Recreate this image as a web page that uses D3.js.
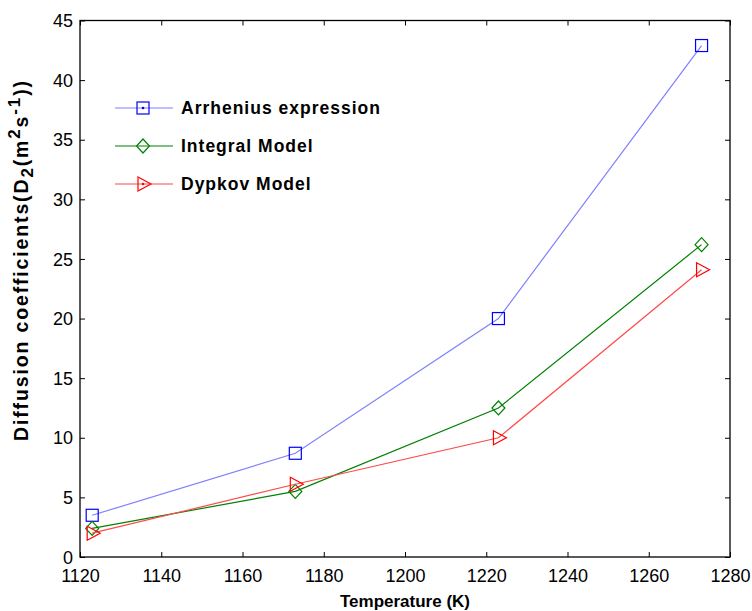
<!DOCTYPE html>
<html lang="en">
<head>
<meta charset="UTF-8" />
<title>Diffusion coefficients</title>
<style>
  body { margin: 0; background: #fff; }
  svg { display: block; font-family: "Liberation Sans", Arial, sans-serif; }
</style>
</head>
<body>
<div id="chart"></div>
<script src="https://d3js.org/d3.v7.min.js"></script>
<script>
  const temps = [1123, 1173, 1223, 1273];
  const arrhenius = [3.5, 8.7, 20.0, 42.9];
  const integral = [2.4, 5.5, 12.5, 26.2];
  const dypkov = [2.0, 6.1, 10.0, 24.1];
  const xTicks = [1120, 1140, 1160, 1180, 1200, 1220, 1240, 1260, 1280];
  const yTicks = [0, 5, 10, 15, 20, 25, 30, 35, 40, 45];

  const series = [
    { name: "Arrhenius expression", values: arrhenius, line: "#8080ff", mark: "#0000ff", shape: "square" },
    { name: "Integral Model", values: integral, line: "#008000", mark: "#008000", shape: "diamond" },
    { name: "Dypkov Model", values: dypkov, line: "#ff4a4a", mark: "#ff0000", shape: "triangle" }
  ];

  const W = 752, H = 611;
  const mLeft = 80, mRight = 730, mTop = 20.5, mBottom = 557;

  const x = d3.scaleLinear().domain([1120, 1280]).range([mLeft, mRight]);
  const y = d3.scaleLinear().domain([0, 45]).range([mBottom, mTop]);

  const svg = d3.select("#chart").append("svg")
    .attr("width", W).attr("height", H);

  // inward ticks on all four sides
  const tl = 5;
  const gx = svg.append("g").attr("transform", `translate(0,${mBottom})`)
    .call(d3.axisBottom(x).tickValues(xTicks).tickFormat(d3.format("d"))
      .tickSizeInner(-tl).tickSizeOuter(0).tickPadding(12));
  const gy = svg.append("g").attr("transform", `translate(${mLeft},0)`)
    .call(d3.axisLeft(y).tickValues(yTicks).tickFormat(d3.format("d"))
      .tickSizeInner(-tl).tickSizeOuter(0).tickPadding(7));
  const gx2 = svg.append("g").attr("transform", `translate(0,${mTop})`)
    .call(d3.axisTop(x).tickValues(xTicks).tickSizeInner(-tl).tickSizeOuter(0).tickFormat(""));
  const gy2 = svg.append("g").attr("transform", `translate(${mRight},0)`)
    .call(d3.axisRight(y).tickValues(yTicks).tickSizeInner(-tl).tickSizeOuter(0).tickFormat(""));

  [gx, gy, gx2, gy2].forEach(g => {
    g.select(".domain").remove();
    g.selectAll("line").attr("stroke", "#000").attr("stroke-width", 1);
    g.selectAll("text").attr("font-size", 18).attr("fill", "#000")
      .attr("font-family", "'Liberation Sans', Arial, sans-serif");
  });
  gx.selectAll("text").attr("dy", "0.71em");
  gy.selectAll("text").attr("dy", "0.34em");

  svg.append("rect")
    .attr("x", mLeft).attr("y", mTop)
    .attr("width", mRight - mLeft).attr("height", mBottom - mTop)
    .attr("fill", "none").attr("stroke", "#000").attr("stroke-width", 1.3);

  function drawMarker(g, shape, color, cx, cy, dot) {
    if (shape === "square") {
      g.append("rect").attr("x", cx - 6).attr("y", cy - 6).attr("width", 12).attr("height", 12)
        .attr("fill", "none").attr("stroke", color).attr("stroke-width", 1.2);
    } else if (shape === "diamond") {
      g.append("path").attr("d", `M${cx},${cy - 7}L${cx + 6.5},${cy}L${cx},${cy + 7}L${cx - 6.5},${cy}Z`)
        .attr("fill", "none").attr("stroke", color).attr("stroke-width", 1.2);
    } else {
      g.append("path").attr("d", `M${cx - 5},${cy - 7}L${cx + 8},${cy}L${cx - 5},${cy + 7}Z`)
        .attr("fill", "none").attr("stroke", color).attr("stroke-width", 1.2);
    }
    if (dot) {
      g.append("circle").attr("cx", cx).attr("cy", cy).attr("r", 1.3).attr("fill", color);
    }
  }

  const line = d3.line().x((d, i) => x(temps[i])).y(d => y(d));

  series.forEach(s => {
    const g = svg.append("g");
    g.append("path").datum(s.values).attr("d", line)
      .attr("fill", "none").attr("stroke", s.line).attr("stroke-width", 1.2);
    s.values.forEach((v, i) => drawMarker(g, s.shape, s.mark, x(temps[i]), y(v), false));
  });

  // legend
  const legY = [108, 146, 184];
  series.forEach((s, i) => {
    const g = svg.append("g");
    g.append("line").attr("x1", 115).attr("x2", 173).attr("y1", legY[i]).attr("y2", legY[i])
      .attr("stroke", s.line).attr("stroke-width", 1.2);
    drawMarker(g, s.shape, s.mark, 143, legY[i], s.shape !== "diamond");
    g.append("text").attr("x", 181).attr("y", legY[i]).attr("dy", "0.36em")
      .attr("font-size", 17.5).attr("font-weight", "bold").attr("letter-spacing", 1)
      .text(s.name);
  });

  // axis titles
  svg.append("text").attr("x", 405).attr("y", 607)
    .attr("text-anchor", "middle").attr("font-size", 17).attr("font-weight", "bold")
    .text("Temperature (K)");

  const yt = svg.append("text").attr("transform", "translate(28,261) rotate(-90)")
    .attr("text-anchor", "middle").attr("font-size", 19.5).attr("font-weight", "bold")
    .attr("textLength", 360).attr("lengthAdjust", "spacing");
  yt.append("tspan").text("Diffusion coefficients(D");
  yt.append("tspan").attr("font-size", 17).attr("dy", 5).text("2");
  yt.append("tspan").attr("dy", -5).text("(m");
  yt.append("tspan").attr("font-size", 17).attr("dy", -8).text("2");
  yt.append("tspan").attr("dy", 8).text("s");
  yt.append("tspan").attr("font-size", 17).attr("dy", -8).text("-1");
  yt.append("tspan").attr("dy", 8).text("))");
</script>
</body>
</html>
